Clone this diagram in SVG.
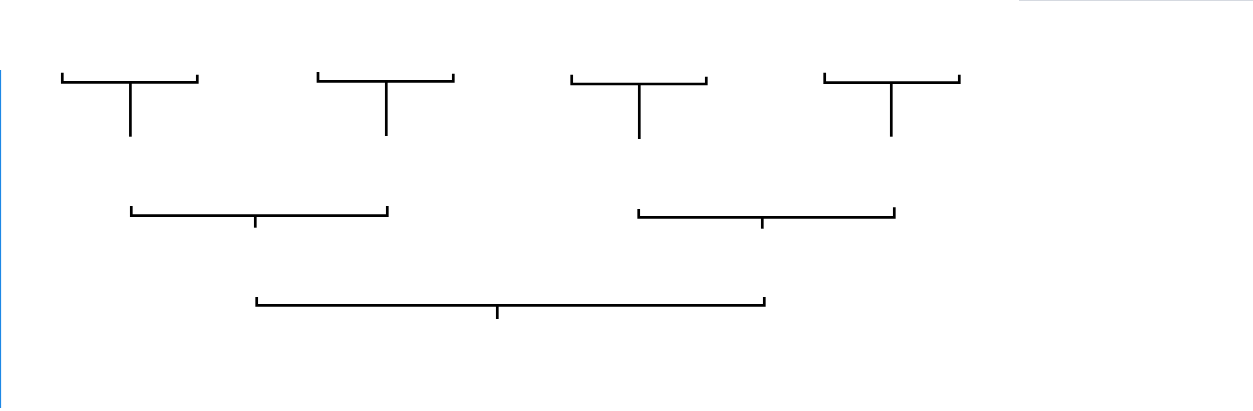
<svg xmlns="http://www.w3.org/2000/svg" width="1253" height="411" viewBox="0 0 1253 411">
<style>
.br{fill:none;stroke:#000;stroke-width:2.7;stroke-linecap:butt;stroke-linejoin:miter}
.st{fill:none;stroke:#000;stroke-width:2.7;stroke-linecap:butt}
</style>
<rect x="0" y="0" width="1253" height="411" fill="#fff"/>
<line x1="1019" y1="0.5" x2="1253" y2="0.5" stroke="#d5d9e0" stroke-width="1"/>
<line x1="0.5" y1="70" x2="0.5" y2="408" stroke="#1e88e5" stroke-width="1.2"/>
<g id="bracket-1"><path class="br" d="M62.3 72.7 V82.3 H197.3 V74.7"/><path class="st" d="M130.4 82.3 V136.7"/></g>
<g id="bracket-2"><path class="br" d="M318 72 V81.3 H453.3 V73.7"/><path class="st" d="M386.3 81.3 V136"/></g>
<g id="bracket-3"><path class="br" d="M571.7 74.7 V84 H706.3 V76.7"/><path class="st" d="M639.3 84 V139"/></g>
<g id="bracket-4"><path class="br" d="M824.7 72.7 V82.7 H959.3 V74.7"/><path class="st" d="M891.3 82.7 V136.7"/></g>
<g id="bracket-5"><path class="br" d="M131.3 206 V215.7 H387.3 V206"/><path class="st" d="M255.3 215.7 V227.7"/></g>
<g id="bracket-6"><path class="br" d="M638.7 209 V217.3 H894.3 V207.3"/><path class="st" d="M762.3 217.3 V228.7"/></g>
<g id="bracket-7"><path class="br" d="M256.7 297 V305.3 H764.3 V297"/><path class="st" d="M497.3 305.3 V319"/></g>
<g id="connectors"></g>
</svg>
